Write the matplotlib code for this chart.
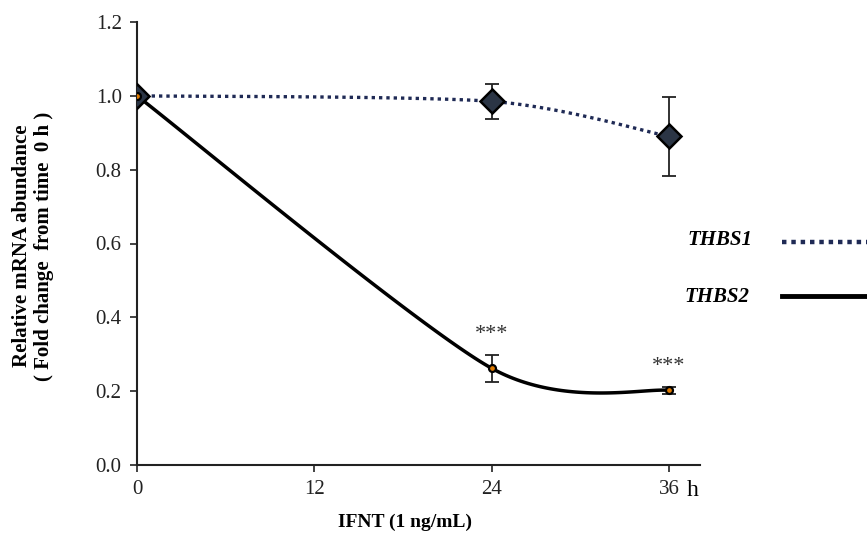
import numpy as np
import matplotlib
matplotlib.use("Agg")
import matplotlib.pyplot as plt

hours = [0, 24, 36]
thbs1 = [1.0, 0.985, 0.89]
thbs1_err = [0.0, 0.047, 0.108]
thbs2 = [1.0, 0.262, 0.202]
thbs2_err = [0.0, 0.036, 0.010]
stars = ["", "***", "***"]


def smooth(x, y, n=60, k=0.4):
    # cardinal spline, roughly what a spreadsheet "smoothed line" does
    x = np.asarray(x, float)
    y = np.asarray(y, float)
    px = np.concatenate([[x[0]], x, [x[-1]]])
    py = np.concatenate([[y[0]], y, [y[-1]]])
    t = np.linspace(0, 1, n)
    h00 = 2 * t ** 3 - 3 * t ** 2 + 1
    h10 = t ** 3 - 2 * t ** 2 + t
    h01 = -2 * t ** 3 + 3 * t ** 2
    h11 = t ** 3 - t ** 2
    xs, ys = [], []
    for i in range(1, len(px) - 2):
        for p, out in ((px, xs), (py, ys)):
            m1 = k * (p[i + 1] - p[i - 1])
            m2 = k * (p[i + 2] - p[i])
            out.extend(h00 * p[i] + h10 * m1 + h01 * p[i + 1] + h11 * m2)
    return np.array(xs), np.array(ys)


plt.rcParams['font.family'] = ['Liberation Serif', 'DejaVu Serif']

fig = plt.figure(figsize=(8.67, 5.43), dpi=100)
ax = fig.add_axes([137 / 867, 1 - 465 / 543, (700 - 137) / 867, (465 - 22) / 543])

sx, sy = smooth(hours, thbs1)
ax.plot(sx, sy, color='#1f2a55', lw=2.4, ls=(0, (1, 1.2)), zorder=2)
sx, sy = smooth(hours, thbs2)
ax.plot(sx, sy, color='black', lw=2.5, zorder=3)

ax.errorbar(hours, thbs1, yerr=thbs1_err, fmt='none', ecolor='#222222', elinewidth=1.3,
            capsize=5, capthick=1.3, zorder=4)
ax.errorbar(hours, thbs2, yerr=thbs2_err, fmt='none', ecolor='#222222', elinewidth=1.3,
            capsize=5, capthick=1.3, zorder=4)
ax.plot(hours, thbs1, ls='none', marker='D', ms=12, mfc='#2b3545', mec='black', mew=1.8,
        zorder=5)
ax.plot(hours, thbs2, ls='none', marker='o', ms=5, mfc='#e07b00', mec='black', mew=1.6,
        zorder=6)

for x, y, e, s in zip(hours, thbs2, thbs2_err, stars):
    if s:
        ax.text(x, y + e + 0.03, s, ha='center', va='bottom', fontsize=16, color='#333333')

ax.set_xlim(0, 38.1)
ax.set_ylim(0, 1.2)
ax.set_xticks([0, 12, 24, 36])
ax.set_yticks(np.arange(0, 1.21, 0.2))
ax.yaxis.set_major_formatter(matplotlib.ticker.FormatStrFormatter('%.1f'))
ax.tick_params(direction='out', length=5, width=1.2, labelsize=15, colors='#222222',
               pad=6)
for side in ['top', 'right']:
    ax.spines[side].set_visible(False)
for side in ['left', 'bottom']:
    ax.spines[side].set_linewidth(1.5)
    ax.spines[side].set_color('#222222')

fig.text(687 / 867, 1 - 491 / 543, 'h', fontsize=17, ha='left', va='center')
fig.text(405 / 867, 1 - 522 / 543, 'IFNT (1 ng/mL)', fontsize=14, fontweight='bold',
         ha='center', va='center')
fig.text(33 / 867, 1 - 246 / 543, 'Relative mRNA abundance\n( Fold change  from time  0 h )',
         fontsize=15, fontweight='bold', rotation=90, ha='center', va='center',
         linespacing=1.1)

# legend drawn at the right edge
fig.text(752 / 867, 1 - 240 / 543, 'THBS1', fontsize=15, fontweight='bold', style='italic',
         ha='right', va='center')
fig.text(749 / 867, 1 - 297 / 543, 'THBS2', fontsize=15, fontweight='bold', style='italic',
         ha='right', va='center')
fig.add_artist(matplotlib.lines.Line2D([782 / 867, 1.0], [1 - 242 / 543, 1 - 242 / 543],
                                       color='#1f2a55', lw=3.2, ls=(0, (1, 1.1))))
fig.add_artist(matplotlib.lines.Line2D([782 / 867, 1.0], [1 - 296 / 543, 1 - 296 / 543],
                                       color='black', lw=3.5))

fig.savefig('out.png', dpi=100)
